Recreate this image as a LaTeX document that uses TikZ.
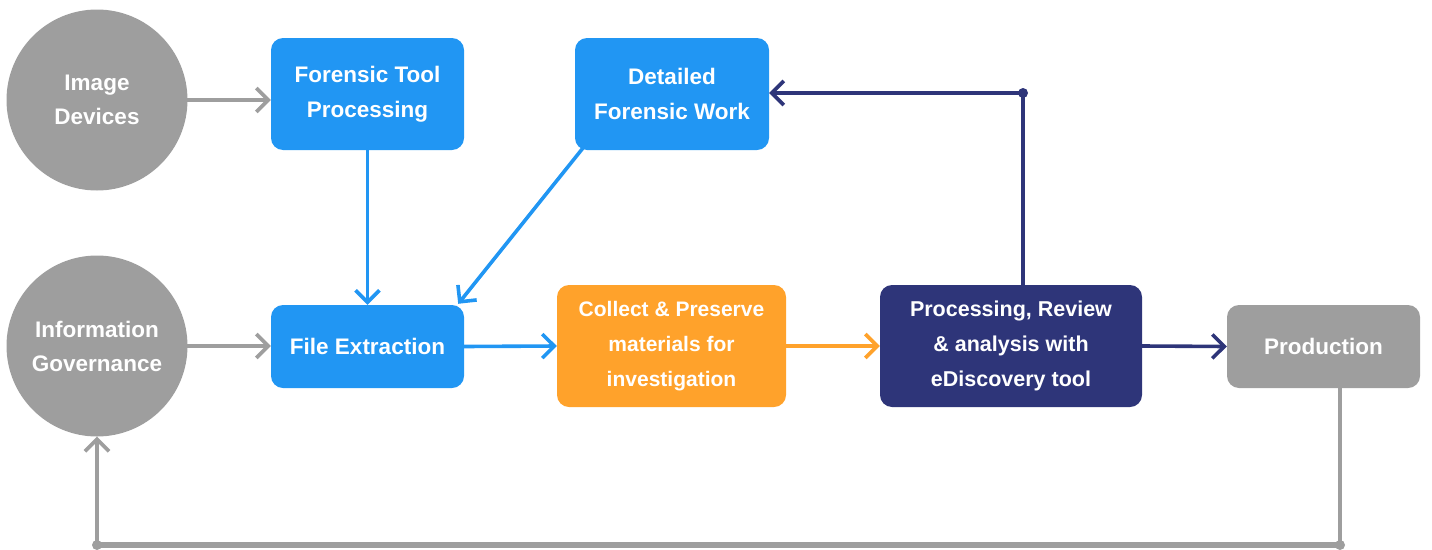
\documentclass[tikz,border=0pt]{standalone}
\usepackage{fontspec}
\setmainfont{Liberation Sans}
\usetikzlibrary{arrows.meta,calc}
\definecolor{cblue}{HTML}{2196F3}
\definecolor{corange}{HTML}{FFA22B}
\definecolor{cnavy}{HTML}{2E3579}
\definecolor{cgray}{HTML}{9E9E9E}
\tikzset{
  circ/.style={circle,fill=cgray,minimum size=181pt,inner sep=0pt,text=white,font=\fontsize{22.5}{34}\selectfont\bfseries,align=center},
  boxn/.style={rounded corners=12pt,text=white,font=\fontsize{22.5}{35}\selectfont\bfseries,align=center,inner sep=0pt},
  arr/.style={line width=3.6pt,-{Straight Barb[length=12pt,width=24pt,line width=3.6pt]},line cap=round,line join=round},
  dotc/.style={circle,inner sep=0pt,minimum size=10pt}
}
\begin{document}
\begin{tikzpicture}[x=1pt,y=-1pt]
\useasboundingbox (0,0) rectangle (1432,549);
\node[circ] (img) at (97,100) {Image\\Devices};
\node[circ] (gov) at (97,346) {Information\\Governance};
\node[boxn,fill=cblue,minimum width=193pt,minimum height=112pt] (ftp) at (367.5,94) {Forensic Tool\\Processing};
\node[boxn,fill=cblue,minimum width=194pt,minimum height=112pt] (dfw) at (672,94) {Detailed\\Forensic Work};
\node[boxn,fill=cblue,minimum width=193pt,minimum height=83pt] (fe) at (367.5,346.5) {File Extraction};
\node[boxn,fill=corange,minimum width=229pt,minimum height=122pt,font=\fontsize{21}{35}\selectfont\bfseries] (cp) at (671.5,346) {Collect \& Preserve\\materials for\\investigation};
\node[boxn,fill=cnavy,minimum width=262pt,minimum height=122pt,font=\fontsize{21.5}{35}\selectfont\bfseries] (pr) at (1011,346) {Processing, Review\\\& analysis with\\eDiscovery tool};
\node[boxn,fill=cgray,minimum width=193pt,minimum height=83pt] (prod) at (1323.5,346.5) {Production};
\coordinate (c1) at (1023,93);
\coordinate (c2) at (1340,545);
\coordinate (c3) at (97,545);
\node[dotc,fill=cnavy] (d1) at (c1) {};
\node[dotc,fill=cgray] (d2) at (c2) {};
\node[dotc,fill=cgray] (d3) at (c3) {};
% connectors
\draw[arr,cgray] (img.east) -- (img.east -| ftp.west);
\draw[arr,cgray] (gov.east) -- (gov.east -| fe.west);
\draw[arr,cblue] (ftp.south) -- (fe.north);
\draw[arr,cblue] ($(dfw.south west)+(8,-2)$) -- ($(fe.north east)+(-6,-1)$);
\draw[arr,cblue] (fe.east) -- (cp.west);
\draw[arr,corange] (cp.east) -- (pr.west);
\draw[arr,cnavy] (pr.east) -- (prod.west);
\draw[arr,cnavy] (pr.north -| c1) -- (c1) -- (c1 -| dfw.east);
\draw[line width=3.6pt,cgray] (prod.south -| c2) -- (c2);
\draw[line width=6pt,cgray] (c2) -- (c3);
\draw[arr,cgray] (c3) -- (gov.south);
\end{tikzpicture}
\end{document}
